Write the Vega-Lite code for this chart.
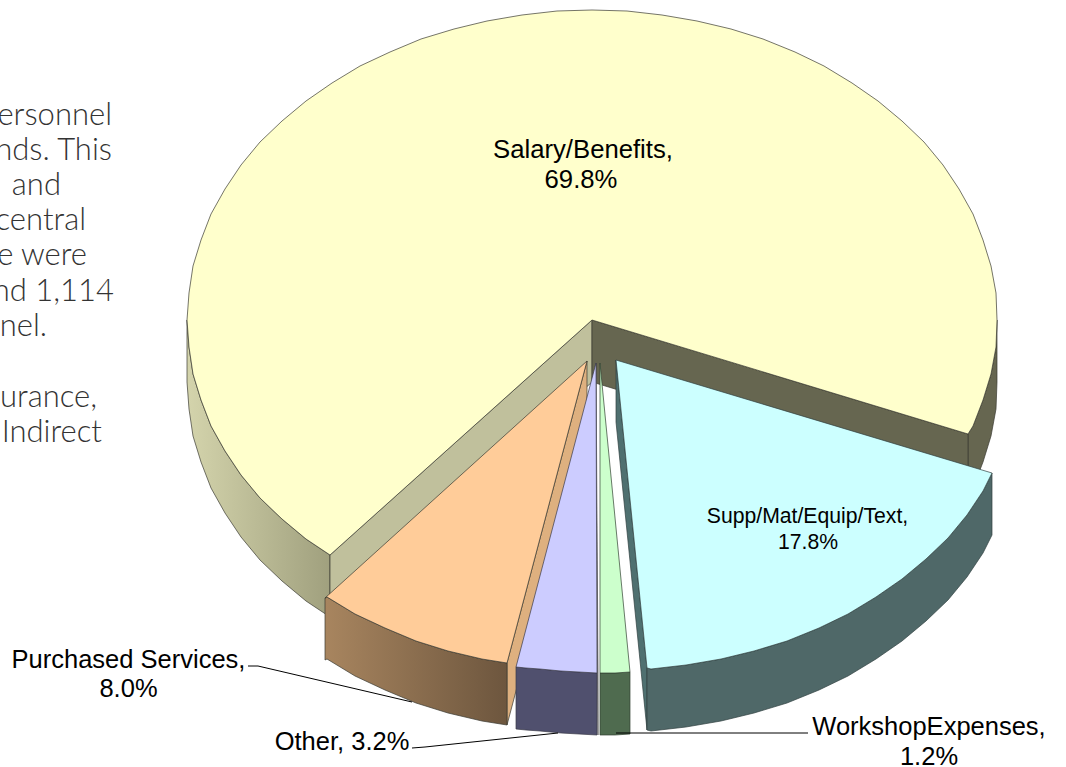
{"$schema":"https://vega.github.io/schema/vega-lite/v6.json","autosize":{"type":"none"},"padding":0,"width":1066,"height":767,"background":"white","config":{"view":{"stroke":null}},
"encoding":{"x":{"field":"x","type":"quantitative","scale":{"domain":[0,1066],"nice":false,"zero":false},"axis":null},"y":{"field":"y","type":"quantitative","scale":{"domain":[767,0],"nice":false,"zero":false},"axis":null},"order":{"value":null}},
"datasets":{
"salaryLeft":[{"x":187,"y":320},{"x":189,"y":347},{"x":193,"y":374},{"x":201,"y":400},{"x":211,"y":426},{"x":225,"y":451},{"x":241,"y":475},{"x":260,"y":498},{"x":282,"y":519},{"x":306,"y":539},{"x":330,"y":555},{"x":330,"y":617},{"x":306,"y":601},{"x":282,"y":581},{"x":260,"y":560},{"x":241,"y":537},{"x":225,"y":513},{"x":211,"y":488},{"x":201,"y":462},{"x":193,"y":436},{"x":189,"y":409},{"x":187,"y":382}],
"salaryRight":[{"x":997,"y":320},{"x":996,"y":347},{"x":991,"y":374},{"x":983,"y":400},{"x":973,"y":426},{"x":968,"y":434},{"x":968,"y":496},{"x":973,"y":488},{"x":983,"y":462},{"x":991,"y":436},{"x":996,"y":409},{"x":997,"y":382}],
"salaryCutL":[{"x":592,"y":320},{"x":330,"y":555},{"x":330,"y":617},{"x":592,"y":382}],
"salaryCutR":[{"x":592,"y":320},{"x":968,"y":434},{"x":968,"y":496},{"x":592,"y":382}],
"salaryTop":[{"x":592,"y":320},{"x":968,"y":434},{"x":973,"y":426},{"x":983,"y":400},{"x":991,"y":374},{"x":996,"y":347},{"x":997,"y":320},{"x":996,"y":293},{"x":991,"y":266},{"x":983,"y":240},{"x":973,"y":214},{"x":959,"y":189},{"x":943,"y":165},{"x":924,"y":142},{"x":902,"y":121},{"x":878,"y":101},{"x":852,"y":83},{"x":824,"y":66},{"x":795,"y":52},{"x":763,"y":39},{"x":731,"y":29},{"x":697,"y":21},{"x":662,"y":15},{"x":627,"y":11},{"x":592,"y":10},{"x":557,"y":11},{"x":522,"y":15},{"x":487,"y":21},{"x":454,"y":29},{"x":421,"y":39},{"x":390,"y":52},{"x":360,"y":66},{"x":332,"y":83},{"x":306,"y":101},{"x":282,"y":121},{"x":260,"y":142},{"x":241,"y":165},{"x":225,"y":189},{"x":211,"y":214},{"x":201,"y":240},{"x":193,"y":266},{"x":189,"y":293},{"x":187,"y":320},{"x":189,"y":347},{"x":193,"y":374},{"x":201,"y":400},{"x":211,"y":426},{"x":225,"y":451},{"x":241,"y":475},{"x":260,"y":498},{"x":282,"y":519},{"x":306,"y":539},{"x":330,"y":555}],
"orangeCut":[{"x":587,"y":361},{"x":507,"y":663},{"x":507,"y":725},{"x":587,"y":423}],
"orangeSide":[{"x":507,"y":663},{"x":482,"y":659},{"x":448,"y":651},{"x":416,"y":641},{"x":385,"y":628},{"x":355,"y":614},{"x":327,"y":597},{"x":325,"y":598},{"x":325,"y":660},{"x":327,"y":659},{"x":355,"y":676},{"x":385,"y":690},{"x":416,"y":703},{"x":448,"y":713},{"x":482,"y":721},{"x":507,"y":725}],
"orangeTop":[{"x":587,"y":361},{"x":507,"y":663},{"x":482,"y":659},{"x":448,"y":651},{"x":416,"y":641},{"x":385,"y":628},{"x":355,"y":614},{"x":327,"y":597},{"x":325,"y":598}],
"lavCut":[{"x":596,"y":363},{"x":598,"y":673},{"x":598,"y":735},{"x":596,"y":425}],
"lavSide":[{"x":597,"y":673},{"x":579,"y":672},{"x":561,"y":671},{"x":540,"y":669},{"x":526,"y":668},{"x":516,"y":667},{"x":516,"y":729},{"x":526,"y":730},{"x":540,"y":731},{"x":561,"y":733},{"x":579,"y":734},{"x":597,"y":735}],
"lavTop":[{"x":596,"y":363},{"x":597,"y":673},{"x":579,"y":672},{"x":561,"y":671},{"x":540,"y":669},{"x":526,"y":668},{"x":516,"y":667}],
"greenSide":[{"x":600,"y":673},{"x":615,"y":673},{"x":630,"y":672},{"x":630,"y":734},{"x":615,"y":735},{"x":600,"y":735}],
"greenTop":[{"x":600,"y":363},{"x":630,"y":672},{"x":615,"y":673},{"x":600,"y":673}],
"cyanCut":[{"x":616,"y":360},{"x":647,"y":668},{"x":647,"y":730},{"x":616,"y":422}],
"cyanSide":[{"x":992,"y":473},{"x":983,"y":491},{"x":967,"y":515},{"x":948,"y":538},{"x":926,"y":559},{"x":902,"y":579},{"x":876,"y":597},{"x":848,"y":614},{"x":819,"y":628},{"x":787,"y":641},{"x":754,"y":651},{"x":721,"y":659},{"x":686,"y":665},{"x":651,"y":669},{"x":647,"y":668},{"x":647,"y":730},{"x":651,"y":731},{"x":686,"y":727},{"x":721,"y":721},{"x":754,"y":713},{"x":787,"y":703},{"x":819,"y":690},{"x":848,"y":676},{"x":876,"y":659},{"x":902,"y":641},{"x":926,"y":621},{"x":948,"y":600},{"x":967,"y":577},{"x":983,"y":553},{"x":992,"y":535}],
"cyanTop":[{"x":616,"y":360},{"x":992,"y":473},{"x":983,"y":491},{"x":967,"y":515},{"x":948,"y":538},{"x":926,"y":559},{"x":902,"y":579},{"x":876,"y":597},{"x":848,"y":614},{"x":819,"y":628},{"x":787,"y":641},{"x":754,"y":651},{"x":721,"y":659},{"x":686,"y":665},{"x":651,"y":669},{"x":647,"y":668}],
"leaderA":[{"x":248,"y":666},{"x":258,"y":666},{"x":412,"y":702}],
"leaderB":[{"x":412,"y":748},{"x":425,"y":747},{"x":558,"y":733}],
"leaderC":[{"x":616,"y":733},{"x":808,"y":733}],
"labels":[{"text":"Salary/Benefits,","x":583,"y":158,"size":25.7},{"text":"69.8%","x":581,"y":188,"size":25.7},{"text":"Supp/Mat/Equip/Text,","x":807.5,"y":523,"size":21.2},{"text":"17.8%","x":808,"y":549,"size":21.2},{"text":"Purchased Services,","x":128.5,"y":668,"size":25.5},{"text":"8.0%","x":128.5,"y":697,"size":25.5},{"text":"Other, 3.2%","x":342,"y":750,"size":25.5},{"text":"WorkshopExpenses,","x":929,"y":735,"size":25.5},{"text":"1.2%","x":929,"y":765,"size":25.5}],
"para":[{"text":"ersonnel","x":112,"y":125},{"text":"nds.  This","x":112,"y":160},{"text":"and","x":61,"y":195},{"text":"central","x":86,"y":230},{"text":"e were","x":87,"y":265},{"text":"nd 1,114","x":114,"y":301},{"text":"nel.","x":47,"y":336},{"text":"urance,","x":97,"y":407},{"text":"Indirect","x":102,"y":442}]
},
"layer":[
{"data":{"name":"salaryLeft"},"mark":{"type":"line","interpolate":"linear-closed","stroke":"#3a3a30","strokeWidth":0.7,"fill":{"gradient":"linear","x1":0,"y1":0,"x2":1,"y2":0,"stops":[{"offset":0,"color":"#d4d4ac"},{"offset":1,"color":"#a0a07e"}]}}},
{"data":{"name":"salaryRight"},"mark":{"type":"line","interpolate":"linear-closed","stroke":"#3a3a30","strokeWidth":0.7,"fill":"#666650"}},
{"data":{"name":"salaryCutL"},"mark":{"type":"line","interpolate":"linear-closed","stroke":"#3a3a30","strokeWidth":0.7,"fill":"#c0c09c"}},
{"data":{"name":"salaryCutR"},"mark":{"type":"line","interpolate":"linear-closed","stroke":"#3a3a30","strokeWidth":0.7,"fill":"#666650"}},
{"data":{"name":"salaryTop"},"mark":{"type":"line","interpolate":"linear-closed","stroke":"#3a3a30","strokeWidth":0.7,"fill":"#ffffcc"}},
{"data":{"name":"orangeCut"},"mark":{"type":"line","interpolate":"linear-closed","stroke":"#3a3a30","strokeWidth":0.7,"fill":"#deb07f"}},
{"data":{"name":"orangeSide"},"mark":{"type":"line","interpolate":"linear-closed","stroke":"#3a3a30","strokeWidth":0.7,"fill":{"gradient":"linear","x1":0,"y1":0,"x2":1,"y2":0,"stops":[{"offset":0,"color":"#a8855f"},{"offset":1,"color":"#6d563e"}]}}},
{"data":{"name":"orangeTop"},"mark":{"type":"line","interpolate":"linear-closed","stroke":"#3a3a30","strokeWidth":0.7,"fill":"#ffcc99"}},
{"data":{"name":"lavCut"},"mark":{"type":"line","interpolate":"linear-closed","stroke":"#555555","strokeWidth":0.7,"fill":"#a0a0a8"}},
{"data":{"name":"lavSide"},"mark":{"type":"line","interpolate":"linear-closed","stroke":"#3a3a48","strokeWidth":0.7,"fill":"#50506e"}},
{"data":{"name":"lavTop"},"mark":{"type":"line","interpolate":"linear-closed","stroke":"#3a3a48","strokeWidth":0.7,"fill":"#ccccff"}},
{"data":{"name":"greenSide"},"mark":{"type":"line","interpolate":"linear-closed","stroke":"#304030","strokeWidth":0.7,"fill":"#4f6b4f"}},
{"data":{"name":"greenTop"},"mark":{"type":"line","interpolate":"linear-closed","stroke":"#304030","strokeWidth":0.7,"fill":"#ccffcc"}},
{"data":{"name":"cyanCut"},"mark":{"type":"line","interpolate":"linear-closed","stroke":"#304040","strokeWidth":0.7,"fill":"#4f7070"}},
{"data":{"name":"cyanSide"},"mark":{"type":"line","interpolate":"linear-closed","stroke":"#304040","strokeWidth":0.7,"fill":"#4f6868"}},
{"data":{"name":"cyanTop"},"mark":{"type":"line","interpolate":"linear-closed","stroke":"#304040","strokeWidth":0.7,"fill":"#ccffff"}},
{"data":{"name":"leaderA"},"mark":{"type":"line","stroke":"#000000","strokeWidth":1}},
{"data":{"name":"leaderB"},"mark":{"type":"line","stroke":"#000000","strokeWidth":1}},
{"data":{"name":"leaderC"},"mark":{"type":"line","stroke":"#000000","strokeWidth":1}},
{"data":{"name":"labels"},"mark":{"type":"text","font":"Liberation Sans","align":"center","baseline":"alphabetic","color":"#000000"},"encoding":{"text":{"field":"text"},"size":{"field":"size","type":"quantitative","scale":null},"order":null}},
{"data":{"name":"para"},"mark":{"type":"text","font":"Lato","fontSize":31,"fontWeight":300,"align":"right","baseline":"alphabetic","color":"#333333"},"encoding":{"text":{"field":"text"},"order":null}}
]}
